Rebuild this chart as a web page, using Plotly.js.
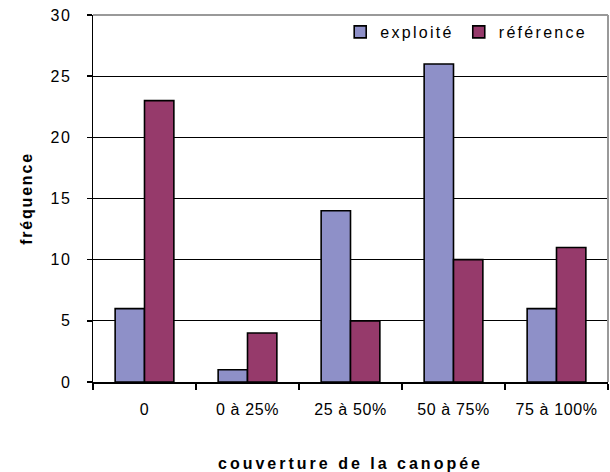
<!DOCTYPE html>
<html>
<head>
<meta charset="utf-8">
<script src="https://cdn.plot.ly/plotly-3.0.1.min.js"></script>
<style>
html,body{margin:0;padding:0;background:#fff;}
#chart{width:610px;height:472px;}
.legendtext{letter-spacing:2.3px;}
.xtitle{letter-spacing:3px;}
.ytitle{letter-spacing:1.8px;}
.ytick text{letter-spacing:1.5px;}
.xtick text{letter-spacing:0.6px;}
</style>
</head>
<body>
<div id="chart"></div>
<script>
const categories = ["0", "0 à 25%", "25 à 50%", "50 à 75%", "75 à 100%"];
const exploite = [6, 1, 14, 26, 6];
const reference = [23, 4, 5, 10, 11];
const seriesNames = ["exploité", "référence"];
const yTicks = [0, 5, 10, 15, 20, 25, 30];

const font = "Liberation Sans, Arial, sans-serif";
const traces = [
  {type:"bar", name:seriesNames[0], x:categories, y:exploite,
   marker:{color:"#8e90c8", line:{color:"#000", width:1.6}}},
  {type:"bar", name:seriesNames[1], x:categories, y:reference,
   marker:{color:"#963a6b", line:{color:"#000", width:1.6}}}
];
const layout = {
  width:610, height:472,
  margin:{l:93, r:2, t:15, b:90, pad:0},
  paper_bgcolor:"#fff", plot_bgcolor:"#fff",
  font:{family:font, color:"#000", size:16},
  barmode:"group", bargap:0.43, bargroupgap:0,
  showlegend:true,
  legend:{orientation:"h", x:0.48, xanchor:"left", y:1, yanchor:"top",
          bgcolor:"rgba(0,0,0,0)", font:{family:font, size:16, color:"#000"},
          traceorder:"normal"},
  xaxis:{
    type:"category", tickson:"boundaries", ticks:"outside", ticklen:6,
    tickcolor:"#000", tickwidth:1.5, showline:true, linecolor:"#000", linewidth:1.5,
    showgrid:false, zeroline:false, ticklabelstandoff:12,
    tickfont:{family:font, size:16, color:"#000"},
    title:{text:"couverture de la canopée", font:{family:font, size:16, color:"#000", weight:"bold"}, standoff:41}
  },
  yaxis:{
    range:[0,30], tickvals:yTicks, ticktext:yTicks.map(String),
    ticks:"outside", ticklen:5, tickcolor:"#000", tickwidth:1.5,
    showline:true, linecolor:"#000", linewidth:1.5,
    showgrid:true, gridcolor:"#000", gridwidth:1, zeroline:false,
    ticklabelstandoff:12,
    tickfont:{family:font, size:16, color:"#000"},
    title:{text:"fréquence", font:{family:font, size:16, color:"#000", weight:"bold"}, standoff:14}
  },
  shapes:[
    {type:"line", xref:"paper", yref:"paper", x0:0, x1:1, y0:1, y1:1, line:{color:"#999", width:2}},
    {type:"line", xref:"paper", yref:"paper", x0:1, x1:1, y0:0, y1:1, line:{color:"#999", width:2}}
  ]
};
Plotly.newPlot("chart", traces, layout, {staticPlot:true, displayModeBar:false});
</script>
</body>
</html>
